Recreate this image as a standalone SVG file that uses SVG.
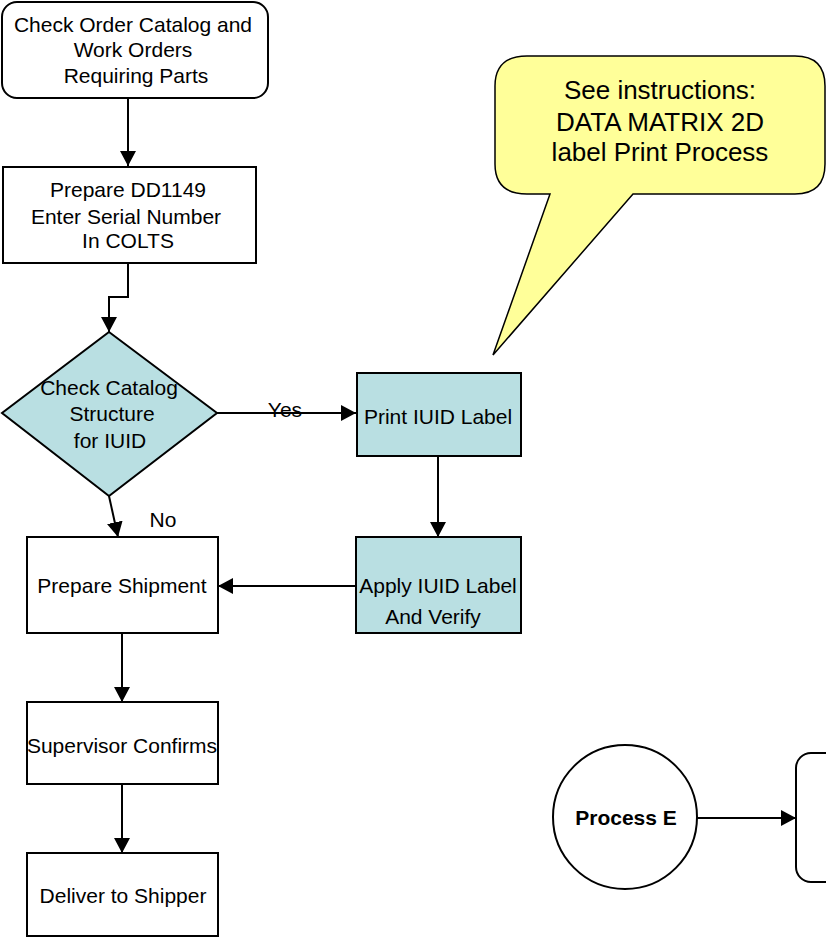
<svg xmlns="http://www.w3.org/2000/svg" width="826" height="937" viewBox="0 0 826 937">
<style>
  .box{fill:#ffffff;stroke:#000;stroke-width:2}
  .blue{fill:#b9dfe2;stroke:#000;stroke-width:2}
  .t{font-family:"Liberation Sans",Arial,sans-serif;font-size:21px;fill:#000;text-anchor:middle}
  .tb{font-family:"Liberation Sans",Arial,sans-serif;font-size:21px;font-weight:bold;fill:#000;text-anchor:middle}
  .tc{font-family:"Liberation Sans",Arial,sans-serif;font-size:26px;fill:#000;text-anchor:middle}
  .c{fill:none;stroke:#000;stroke-width:2;marker-end:url(#ah)}
</style>
<defs>
  <marker id="ah" markerWidth="16" markerHeight="16" refX="15" refY="8" orient="auto" markerUnits="userSpaceOnUse">
    <path d="M0,0 L15,8 L0,16 Z" fill="#000"/>
  </marker>
</defs>
<rect width="826" height="937" fill="#fff"/>

<g id="callout">
  <path d="M527 56 H795 Q825 56 825 86 V164 Q825 194 795 194 H633 L493 355 L550 194 H527 Q495 194 495 164 V86 Q495 56 527 56 Z" fill="#ffff99" stroke="#000" stroke-width="1.5"/>
  <text class="tc" x="660" y="99">See instructions:</text>
  <text class="tc" x="660" y="131">DATA MATRIX 2D</text>
  <text class="tc" x="660" y="161">label Print Process</text>
</g>

<g id="connectors">
  <path class="c" d="M128 98 V166"/>
  <path class="c" d="M128 263 V297 H109 V332"/>
  <path class="c" d="M217 413 H356"/>
  <path class="c" d="M109 496 L118 537"/>
  <path class="c" d="M438 456 V537"/>
  <path class="c" d="M356 586 H218"/>
  <path class="c" d="M122 633 V702"/>
  <path class="c" d="M122 784 V853"/>
  <path class="c" d="M697 818 H796"/>
  <text class="t" x="285" y="417">Yes</text>
  <text class="t" x="163" y="527">No</text>
</g>

<g id="start">
  <rect class="box" x="2" y="2" width="266" height="96" rx="15"/>
  <text class="t" x="133" y="32">Check Order Catalog and</text>
  <text class="t" x="133" y="57">Work Orders</text>
  <text class="t" x="136" y="83">Requiring Parts</text>
</g>

<g id="prepare-dd1149">
  <rect class="box" x="3" y="167" width="253" height="96"/>
  <text class="t" x="128" y="197">Prepare DD1149</text>
  <text class="t" x="126" y="224">Enter Serial Number</text>
  <text class="t" x="128" y="248">In COLTS</text>
</g>

<g id="check-catalog">
  <polygon class="blue" points="109,332 217,413 109,496 2,413"/>
  <text class="t" x="109" y="395">Check Catalog</text>
  <text class="t" x="112" y="421">Structure</text>
  <text class="t" x="110" y="448">for IUID</text>
</g>

<g id="print-iuid">
  <rect class="blue" x="357" y="373" width="164" height="83"/>
  <text class="t" x="438" y="424">Print IUID Label</text>
</g>

<g id="apply-iuid">
  <rect class="blue" x="356" y="537" width="165" height="96"/>
  <text class="t" x="438" y="593">Apply IUID Label</text>
  <text class="t" x="433" y="624">And Verify</text>
</g>

<g id="prepare-shipment">
  <rect class="box" x="27" y="537" width="191" height="96"/>
  <text class="t" x="122" y="593">Prepare Shipment</text>
</g>

<g id="supervisor">
  <rect class="box" x="27" y="702" width="191" height="82"/>
  <text class="t" x="122" y="753">Supervisor Confirms</text>
</g>

<g id="deliver">
  <rect class="box" x="27" y="853" width="191" height="83"/>
  <text class="t" x="123" y="903">Deliver to Shipper</text>
</g>

<g id="process-e">
  <circle cx="625" cy="817" r="72" fill="#fff" stroke="#000" stroke-width="2"/>
  <text class="tb" x="626" y="825">Process E</text>
</g>

<g id="next-box">
  <rect class="box" x="796" y="753" width="60" height="129" rx="15"/>
</g>
</svg>
